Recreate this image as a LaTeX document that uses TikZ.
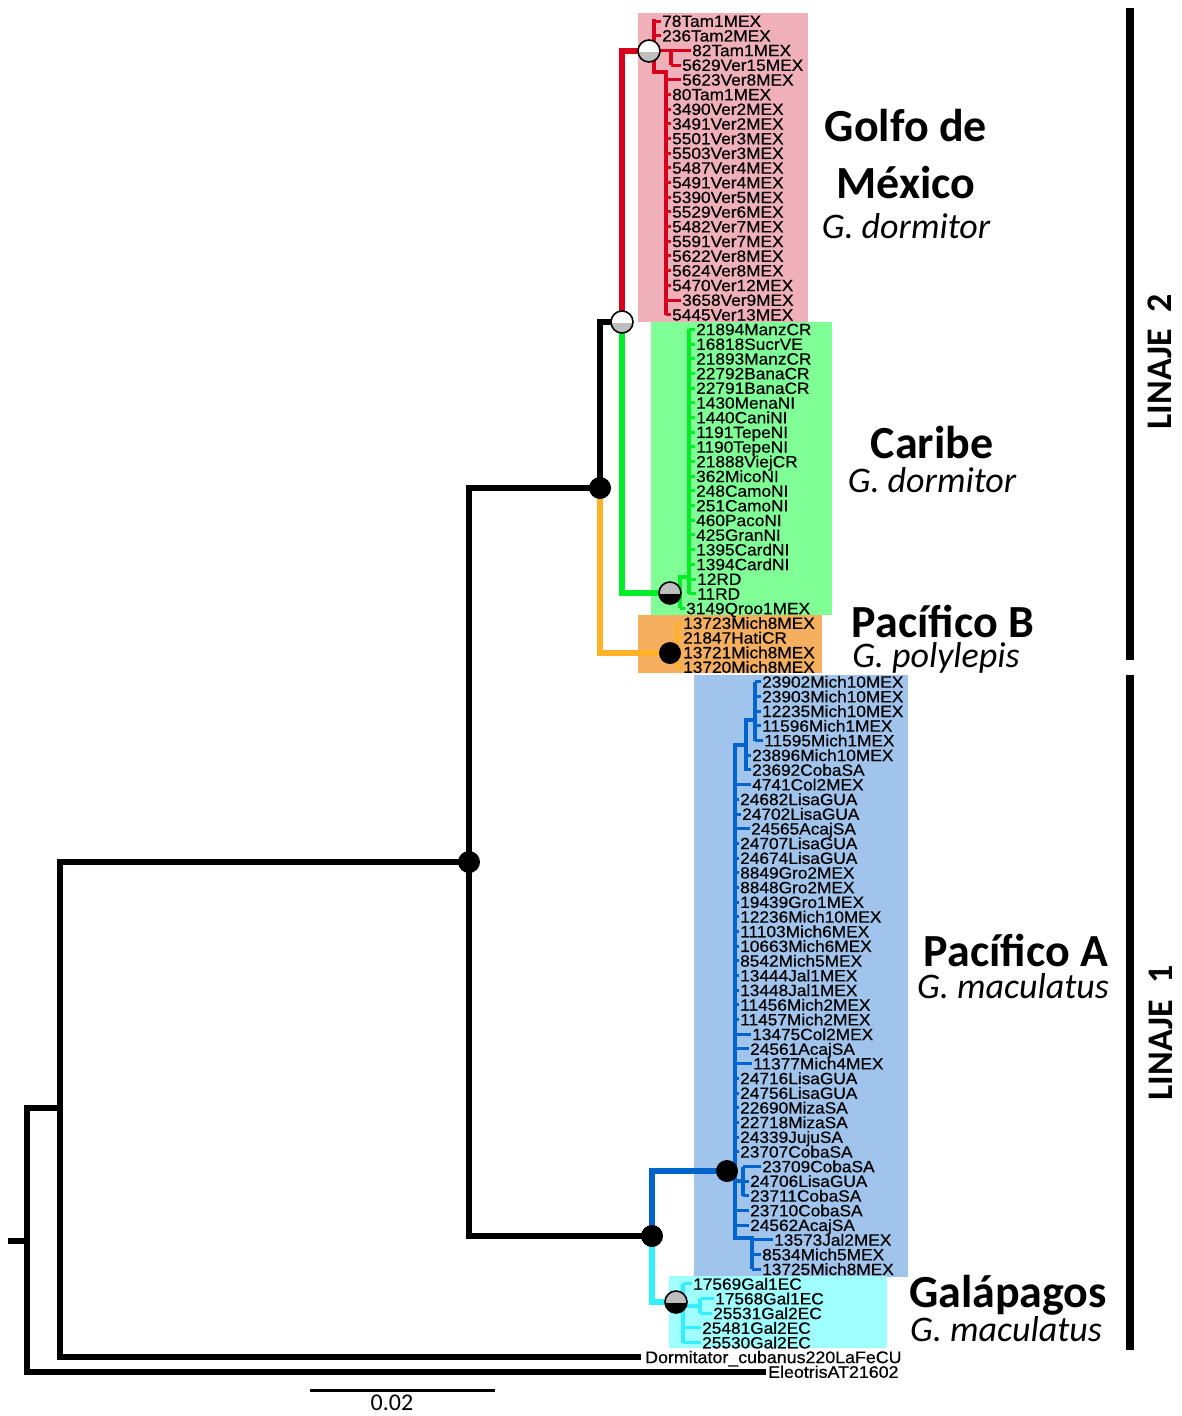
\documentclass[tikz,border=0pt]{standalone}
\usepackage{fontspec}
\newfontfamily\tipfont[FakeStretch=1.06,FakeBold=0.6]{Liberation Sans}
\newfontfamily\capfont{Carlito}
\definecolor{redc}{RGB}{214,0,28}
\definecolor{grc}{RGB}{0,238,40}
\definecolor{orc}{RGB}{255,178,40}
\definecolor{blc}{RGB}{0,100,205}
\definecolor{cyc}{RGB}{50,240,255}
\definecolor{pinkbg}{RGB}{240,176,186}
\definecolor{greenbg}{RGB}{128,255,150}
\definecolor{orangebg}{RGB}{245,175,95}
\definecolor{bluebg}{RGB}{160,196,236}
\definecolor{cyanbg}{RGB}{160,255,255}
\definecolor{piegray}{RGB}{190,190,190}
\tikzset{
  tip/.style={anchor=base west, inner sep=0pt, font=\tipfont\fontsize{16.3}{16}\selectfont},
  outtip/.style={anchor=base west, inner sep=0pt, font=\tipfont\fontsize{16.8}{16}\selectfont},
  blk/.style={line width=6, black},
  stem/.style={line width=5.5},
  comb/.style={line width=4},
  tick/.style={line width=3},
  bigname/.style={font=\capfont\bfseries\fontsize{46}{46}\selectfont, anchor=base, inner sep=0pt},
  sciname/.style={font=\capfont\itshape\fontsize{36}{36}\selectfont, anchor=base, inner sep=0pt},
  lineage/.style={font=\capfont\bfseries\fontsize{36}{36}\selectfont, rotate=90, inner sep=0pt},
}
\newcommand\piechart[3]{%
  \fill[#3] (#1) circle (11);
  \begin{scope}\clip (#1) ++(-13,-13) rectangle ++(26,13); \fill[#2] (#1) circle (11);\end{scope}
  \draw[line width=1.6] (#1) circle (11);}
\begin{document}
\begin{tikzpicture}[x=1pt,y=-1pt,line join=miter]
\useasboundingbox[fill=white] (0,0) rectangle (1181,1416);
% clade boxes
\fill[pinkbg] (638,13) rectangle (808,322);
\fill[greenbg] (651,322) rectangle (832,615);
\fill[orangebg] (638,615) rectangle (822,673);
\fill[bluebg] (694,675) rectangle (908,1277);
\fill[cyanbg] (669,1276) rectangle (887,1348);
% internal nodes
\coordinate (root) at (8,1241);
\coordinate (n0) at (27,1241);
\coordinate (n1) at (60,1108);
\coordinate (eleo) at (766,1372);
\coordinate (dorm) at (641,1357);
\coordinate (n2) at (469,862);
\coordinate (n3) at (600,488);
\coordinate (n4) at (652,1236);
\coordinate (n5) at (622,322);
\coordinate (nR) at (649,51);
\coordinate (nG) at (670,593);
\coordinate (nO) at (670,653);
\coordinate (nB) at (727,1171);
\coordinate (nC) at (676,1302);
% backbone
\draw[blk] (root) -- (n0);
\draw[blk] (n0) |- (n1);
\draw[blk] (n0) |- (eleo);
\draw[blk] (n1) |- (n2);
\draw[blk] (n1) |- (dorm);
\draw[blk] (n2) |- (n3);
\draw[blk] (n2) |- (n4);
\draw[blk] (n3) |- (n5);
\draw[stem,orc] (n3) |- (nO);
\draw[stem,redc] (n5) |- (nR);
\draw[stem,grc] (n5) |- (nG);
\draw[stem,blc] (n4) |- (nB);
\draw[stem,cyc] (n4) |- (nC);
% red clade combs
\draw[comb,redc] (nR) -- (654,51);
\draw[comb,redc] (654,19) -- (654,72) -- (666,72) -- (666,314.7);
\draw[comb,redc] (671,50.4) -- (671,65.1);
\foreach \i/\x/\cx in {0/662/654, 1/662/654, 2/692/654, 3/682/671, 4/682/666, 5/672/666, 6/672/666, 7/672/666, 8/672/666, 9/672/666, 10/672/666, 11/672/666, 12/672/666, 13/672/666, 14/672/666, 15/672/666, 16/672/666, 17/672/666, 18/672/666, 19/682/666, 20/672/666}{
  \pgfmathsetmacro\yy{21+\i*14.685}
  \coordinate (p\i) at (\x-1,\yy);
  \draw[tick,redc] (\cx,\yy) -- (p\i);
}
% green clade combs
\draw[comb,grc] (689,329.4) -- (689,593.7);
\draw[comb,grc] (nG) -- (680,593);
\draw[comb,grc] (689,577) -- (680,577) -- (680,608.4);
\foreach \i/\x/\cx in {21/696/689,22/696/689,23/696/689,24/696/689,25/696/689,26/696/689,27/696/689,28/696/689,29/696/689,30/696/689,31/696/689,32/696/689,33/696/689,34/696/689,35/696/689,36/696/689,37/696/689,38/697/689,39/697/689,40/686/680}{
  \pgfmathsetmacro\yy{21+\i*14.685}
  \coordinate (p\i) at (\x-1,\yy);
  \draw[tick,grc] (\cx,\yy) -- (p\i);
}
% orange clade
\draw[comb,orc] (677,623.1) -- (677,667.1);
\draw[comb,orc] (nO) -- (677,653);
\foreach \i in {41,...,44}{
  \pgfmathsetmacro\yy{21+\i*14.685}
  \coordinate (p\i) at (682,\yy);
  \draw[tick,orc] (677,\yy) -- (p\i);
}
% blue clade
\draw[comb,blc] (nB) -- (735,1171);
\draw[comb,blc] (746,745) -- (735,745) -- (735,1238) -- (752,1238) -- (752,1269.2);
\draw[comb,blc] (746,770.6) -- (746,720) -- (755,720);
\draw[comb,blc] (755,681.8) -- (755,740.5);
\draw[comb,blc] (735,1181) -- (743,1181);
\draw[comb,blc] (743,1166.5) -- (743,1195.9);
\foreach \i/\x/\cx in {45/762/755,46/762/755,47/762/755,48/762/755,49/764/755,50/752/746,51/752/746,52/752/735,53/740/735,54/742/735,55/751/735,56/740/735,57/740/735,58/740/735,59/740/735,60/740/735,61/740/735,62/740/735,63/740/735,64/740/735,65/740/735,66/740/735,67/740/735,68/740/735,69/752/735,70/750/735,71/753/735,72/740/735,73/740/735,74/740/735,75/740/735,76/740/735,77/740/735,78/762/743,79/750/743,80/750/743,81/750/735,82/750/735,83/774/752,84/762/752,85/762/752}{
  \pgfmathsetmacro\yy{21+\i*14.685}
  \coordinate (p\i) at (\x-1,\yy);
  \draw[tick,blc] (\cx,\yy) -- (p\i);
}
% cyan clade
\draw[comb,cyc] (nC) -- (683,1302);
\draw[comb,cyc] (683,1283.9) -- (683,1342.7);
\draw[comb,cyc] (683,1306) -- (700,1306);
\draw[comb,cyc] (700,1298.6) -- (700,1313.3);
\foreach \i/\x/\cx in {86/693/683,87/715/700,88/713/700,89/702/683,90/702/683}{
  \pgfmathsetmacro\yy{21+\i*14.685}
  \coordinate (p\i) at (\x-1,\yy);
  \draw[tick,cyc] (\cx,\yy) -- (p\i);
}
% node markers
\fill (n2) circle (11);
\fill (n3) circle (11);
\fill (n4) circle (11);
\fill (nO) circle (11);
\fill (nB) circle (11);
\piechart{n5}{white}{piegray}
\piechart{nR}{white}{piegray}
\piechart{nG}{piegray}{black}
\piechart{nC}{piegray}{black}
% tip labels
\foreach \i/\x/\l in {0/662/78Tam1MEX, 1/662/236Tam2MEX, 2/692/82Tam1MEX, 3/682/5629Ver15MEX, 4/682/5623Ver8MEX, 5/672/80Tam1MEX, 6/672/3490Ver2MEX, 7/672/3491Ver2MEX, 8/672/5501Ver3MEX, 9/672/5503Ver3MEX, 10/672/5487Ver4MEX, 11/672/5491Ver4MEX, 12/672/5390Ver5MEX, 13/672/5529Ver6MEX, 14/672/5482Ver7MEX, 15/672/5591Ver7MEX, 16/672/5622Ver8MEX, 17/672/5624Ver8MEX, 18/672/5470Ver12MEX, 19/682/3658Ver9MEX, 20/672/5445Ver13MEX,
21/696/21894ManzCR, 22/696/16818SucrVE, 23/696/21893ManzCR, 24/696/22792BanaCR, 25/696/22791BanaCR, 26/696/1430MenaNI, 27/696/1440CaniNI, 28/696/1191TepeNI, 29/696/1190TepeNI, 30/696/21888ViejCR, 31/696/362MicoNI, 32/696/248CamoNI, 33/696/251CamoNI, 34/696/460PacoNI, 35/696/425GranNI, 36/696/1395CardNI, 37/696/1394CardNI, 38/697/12RD, 39/697/11RD, 40/686/3149Qroo1MEX,
41/683/13723Mich8MEX, 42/683/21847HatiCR, 43/683/13721Mich8MEX, 44/683/13720Mich8MEX,
45/762/23902Mich10MEX, 46/762/23903Mich10MEX, 47/762/12235Mich10MEX, 48/762/11596Mich1MEX, 49/764/11595Mich1MEX, 50/752/23896Mich10MEX, 51/752/23692CobaSA, 52/752/4741Col2MEX, 53/740/24682LisaGUA, 54/742/24702LisaGUA, 55/751/24565AcajSA, 56/740/24707LisaGUA, 57/740/24674LisaGUA, 58/740/8849Gro2MEX, 59/740/8848Gro2MEX, 60/740/19439Gro1MEX, 61/740/12236Mich10MEX, 62/740/11103Mich6MEX, 63/740/10663Mich6MEX, 64/740/8542Mich5MEX, 65/740/13444Jal1MEX, 66/740/13448Jal1MEX, 67/740/11456Mich2MEX, 68/740/11457Mich2MEX, 69/752/13475Col2MEX, 70/750/24561AcajSA, 71/753/11377Mich4MEX, 72/740/24716LisaGUA, 73/740/24756LisaGUA, 74/740/22690MizaSA, 75/740/22718MizaSA, 76/740/24339JujuSA, 77/740/23707CobaSA, 78/762/23709CobaSA, 79/750/24706LisaGUA, 80/750/23711CobaSA, 81/750/23710CobaSA, 82/750/24562AcajSA, 83/774/13573Jal2MEX, 84/762/8534Mich5MEX, 85/762/13725Mich8MEX,
86/693/17569Gal1EC, 87/715/17568Gal1EC, 88/713/25531Gal2EC, 89/702/25481Gal2EC, 90/702/25530Gal2EC}{
  \node[tip] (t\i) at (\x,{21+\i*14.685+5.8}) {\l};
}
\node[outtip] (t91) at (645,1363.1) {Dormitator\_cubanus220LaFeCU};
\node[outtip] (t92) at (768,1377.8) {EleotrisAT21602};
% clade names
\node[bigname] (golfo) at (906,141) {Golfo de};
\node[bigname] (mexico) at (906,198) {México};
\node[sciname] (dorm1) at (906,238) {G. dormitor};
\node[bigname] (caribe) at (932,458) {Caribe};
\node[sciname] (dorm2) at (932,492) {G. dormitor};
\node[bigname] (pacb) at (943,637) {Pacífico B};
\node[sciname] (poly) at (936,667) {G. polylepis};
\node[bigname] (paca) at (1016,966) {Pacífico A};
\node[sciname] (mac1) at (1013,998) {G. maculatus};
\node[bigname] (gala) at (1008,1307) {Galápagos};
\node[sciname] (mac2) at (1006,1341) {G. maculatus};
% lineage bars
\fill (1126,8) rectangle (1134,660);
\fill (1126,675) rectangle (1134,1350);
\node[lineage] (lin2) at (1160,362) {LINAJE~~2};
\node[lineage] (lin1) at (1161,1033) {LINAJE~~1};
% scale bar
\coordinate (sbL) at (310,1390);
\coordinate (sbR) at (495,1390);
\draw[line width=3] (sbL) -- (sbR);
\node[font=\capfont\fontsize{24}{24}\selectfont, anchor=base, inner sep=0pt] (sblab) at (392,1410) {0.02};
\end{tikzpicture}
\end{document}
